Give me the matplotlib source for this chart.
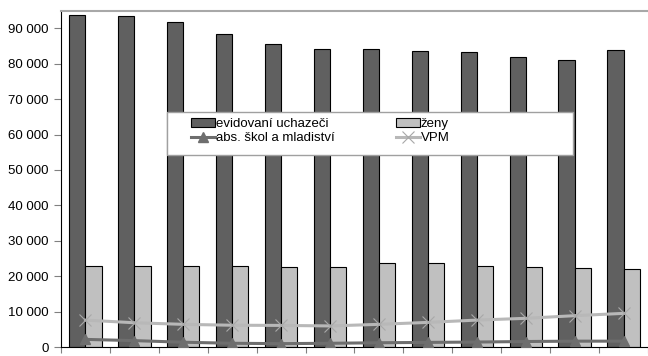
import numpy as np
import matplotlib
matplotlib.use("Agg")
import matplotlib.pyplot as plt
from matplotlib.patches import Rectangle
from matplotlib.ticker import FuncFormatter

plt.rcParams['font.family'] = ['Liberation Sans', 'DejaVu Sans']

# hodnoty (12 období)
evidovani = [93700, 93600, 91800, 88300, 85500, 84200, 84200, 83500, 83300, 81900, 81200, 83800]
zeny = [22950, 22950, 22850, 22850, 22650, 22650, 23600, 23600, 22950, 22600, 22200, 22000]
absolventi = [2150, 1800, 1350, 1050, 950, 1050, 1200, 1300, 1400, 1550, 1650, 1650]
vpm = [7600, 6850, 6400, 6150, 6100, 5950, 6400, 6950, 7600, 8100, 8850, 9500]

labels = ['evidovaní uchazeči', 'ženy', 'abs. škol a mladiství', 'VPM']
yticks = list(range(0, 90001, 10000))

fig = plt.figure(figsize=(6.48, 3.56), dpi=100)
ax = fig.add_axes([61/648, 1 - 347/356, 1 - 61/648, (347 - 10.7)/356])

x = np.arange(len(evidovani))
w = 0.33
b1 = ax.bar(x - w/2, evidovani, w, color='#606060', edgecolor='black', linewidth=0.8, zorder=2)
b2 = ax.bar(x + w/2, zeny, w, color='#c0c0c0', edgecolor='black', linewidth=0.8, zorder=2)
l1, = ax.plot(x, absolventi, color='#6e6e6e', lw=2.2, marker='^', ms=7,
              mfc='#6e6e6e', mec='#6e6e6e', zorder=3)
l2, = ax.plot(x, vpm, color='#b8b8b8', lw=2.2, marker='x', ms=9, mew=0.8,
              mec='#a8a8a8', zorder=3)

ax.set_xlim(-0.5, len(x) - 0.5)
ax.set_ylim(0, 95000)
ax.set_yticks(yticks)
ax.yaxis.set_major_formatter(FuncFormatter(lambda v, p: f'{int(v):,}'.replace(',', ' ')))
ax.set_xticks(np.arange(-0.5, len(x) + 0.5, 1))
ax.set_xticklabels([])
ax.tick_params(axis='y', length=5, width=0.8, color='#808080', pad=4, labelsize=9.5)
ax.tick_params(axis='x', length=4, width=0.8, color='#808080')

ax.spines['right'].set_visible(False)
ax.spines['top'].set_color('#a8a8a8')
ax.spines['top'].set_linewidth(1.5)
ax.spines['left'].set_color('black')
ax.spines['bottom'].set_color('black')

# rámeček legendy
frame = Rectangle((167/648, 1 - 155/356), 406/648, 43/356, transform=fig.transFigure,
                  facecolor='white', edgecolor='#a0a0a0', lw=1, zorder=4, clip_on=False)
ax.add_artist(frame)
leg = ax.legend([b1, l1, b2, l2], [labels[0], labels[2], labels[1], labels[3]],
                ncol=2, frameon=False, fontsize=9.5,
                loc='upper left', bbox_to_anchor=(191/648, 1 - 118/356),
                bbox_transform=fig.transFigure, borderpad=0, borderaxespad=0,
                handlelength=1.85, handletextpad=0.05, columnspacing=4.6, labelspacing=0.15)
leg.set_zorder(5)

fig.savefig('out.png', dpi=100)
